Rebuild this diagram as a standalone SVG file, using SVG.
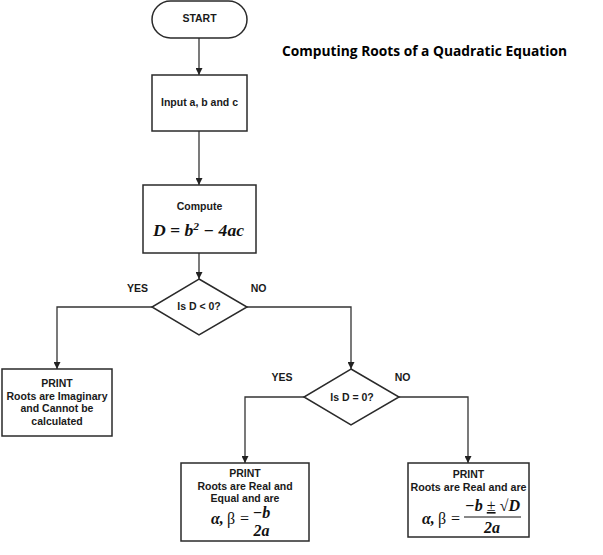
<svg xmlns="http://www.w3.org/2000/svg" width="603" height="555" viewBox="0 0 603 555">
<defs>
<marker id="arr" viewBox="0 0 10 10" refX="10" refY="5" markerWidth="7" markerHeight="7" markerUnits="userSpaceOnUse" orient="auto">
<path d="M0,0 L10,5 L0,10 z" fill="#222"/>
</marker>
<style>
.shape{fill:#fff;stroke:#2a2a2a;stroke-width:1.5}
.conn{fill:none;stroke:#333;stroke-width:1.3;marker-end:url(#arr)}
.t{font-family:"Liberation Sans",Arial,sans-serif;font-weight:bold;font-size:10.5px;fill:#1a1a1a;text-anchor:middle}
.m{font-family:"Liberation Serif","DejaVu Serif",serif;font-weight:bold;font-style:italic;font-size:16px;fill:#111}
.mu{font-family:"Liberation Serif","DejaVu Serif",serif;font-weight:normal;font-style:normal;font-size:16px;fill:#111}
.title{font-family:"Open Sans","Noto Sans",sans-serif;font-weight:bold;font-size:13.5px;fill:#000}
</style>
</defs>
<rect width="603" height="555" fill="#fff"/>
<text class="title" x="282" y="56" textLength="285" lengthAdjust="spacingAndGlyphs">Computing Roots of a Quadratic Equation</text>
<g id="connectors">
<path class="conn" d="M199,38 L199,75"/>
<path class="conn" d="M199,131 L199,185"/>
<path class="conn" d="M199,253 L199,279"/>
<path class="conn" d="M152,307 L57,307 L57,369"/>
<path class="conn" d="M247,307 L351,307 L351,369"/>
<path class="conn" d="M304,397 L245,397 L245,463"/>
<path class="conn" d="M399,397 L468,397 L468,463"/>
<text class="t" x="137.5" y="292">YES</text>
<text class="t" x="258.5" y="292">NO</text>
<text class="t" x="282" y="381">YES</text>
<text class="t" x="402.5" y="381">NO</text>
</g>
<g id="start">
<rect class="shape" x="152" y="1" width="95" height="37" rx="18.5"/>
<text class="t" x="199.5" y="22">START</text>
</g>
<g id="input">
<rect class="shape" x="152" y="75" width="95" height="56"/>
<text class="t" x="199.5" y="106">Input a, b and c</text>
</g>
<g id="compute">
<rect class="shape" x="143" y="185" width="113" height="68"/>
<text class="t" x="199.5" y="210">Compute</text>
<text class="m" x="153" y="236" textLength="91" lengthAdjust="spacingAndGlyphs">D = b<tspan dy="-6" font-size="10.5">2</tspan><tspan dy="6"> −  4ac</tspan></text>
</g>
<g id="decision1">
<polygon class="shape" points="199,279 247,307 199,335 152,307"/>
<text class="t" x="199" y="310">Is D &lt; 0?</text>
</g>
<g id="imaginary">
<rect class="shape" x="2" y="369" width="110" height="67"/>
<text class="t" x="57" y="387">PRINT</text>
<text class="t" x="57" y="400">Roots are Imaginary</text>
<text class="t" x="57" y="412">and Cannot be</text>
<text class="t" x="57" y="425">calculated</text>
</g>
<g id="decision2">
<polygon class="shape" points="351,369 399,397 351,425 304,397"/>
<text class="t" x="352" y="401">Is D = 0?</text>
</g>
<g id="equal">
<rect class="shape" x="181" y="463" width="128" height="78"/>
<text class="t" x="245" y="477">PRINT</text>
<text class="t" x="245" y="489.5">Roots are Real and</text>
<text class="t" x="245" y="502">Equal and are</text>
<text class="m" x="211" y="524">α,<tspan class="mu" x="227">β</tspan><tspan class="mu" x="240">=</tspan></text>
<text class="m" x="261.5" y="518" font-size="14.5" text-anchor="middle">−b</text>
<text class="m" x="261.5" y="536" text-anchor="middle">2a</text>
</g>
<g id="real">
<rect class="shape" x="408" y="463" width="121" height="74"/>
<text class="t" x="468.5" y="478">PRINT</text>
<text class="t" x="468.5" y="491" textLength="116" lengthAdjust="spacingAndGlyphs">Roots are Real and are</text>
<text class="m" x="422" y="524">α,<tspan class="mu" x="438">β</tspan><tspan class="mu" x="451">=</tspan></text>
<text class="m" x="465" y="511" textLength="55" lengthAdjust="spacingAndGlyphs">−b <tspan class="mu" text-decoration="underline">±</tspan>  √D</text>
<line x1="464" y1="517" x2="521" y2="517" stroke="#111" stroke-width="1"/>
<text class="m" x="492" y="533" text-anchor="middle">2a</text>
</g>
</svg>
